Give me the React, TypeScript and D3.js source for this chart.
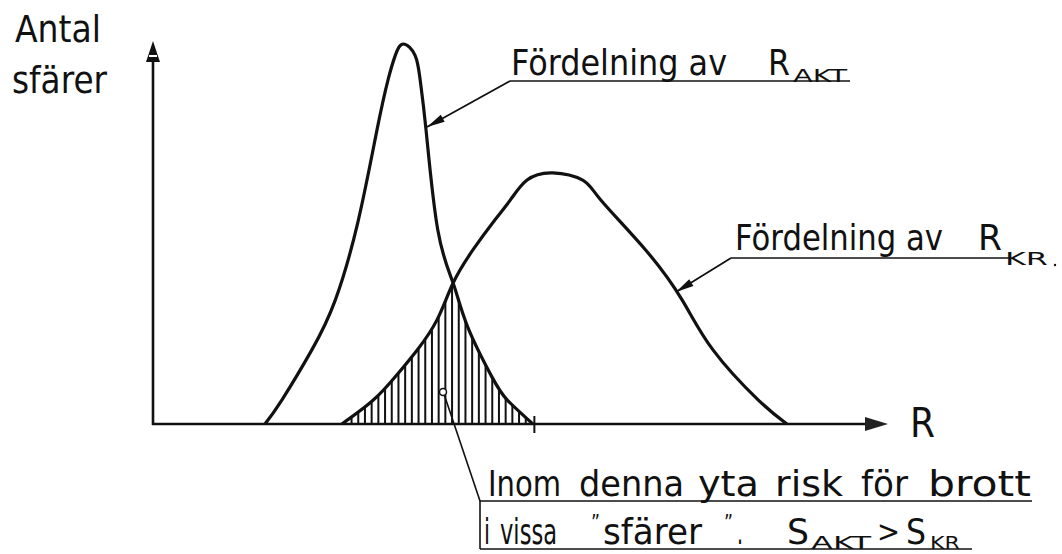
import React from "react";
import * as d3 from "d3";

// R values (0..100 along the R axis) and relative counts (0..100)
const aktR = [15.3, 17.6, 21.7, 24.9, 28.0, 30.6, 32.1, 33.1, 34.2, 35.8, 36.5, 37.3, 38.9, 41.0, 43.0, 46.3, 48.4, 51.9];
const aktN = [0, 6.3, 19.5, 32.6, 53.2, 77.4, 90.5, 97, 100, 97, 90.5, 77.4, 51.1, 37.1, 25.5, 12.4, 6.3, 0];
const krR = [25.8, 30.1, 33.3, 36.1, 38.8, 41.0, 43.7, 46.7, 48.8, 51.1, 54.6, 58.7, 61.2, 67.3, 72.3, 76.5, 82.7, 86.6];
const krN = [0, 6.3, 12.9, 19.5, 27.4, 37.1, 45.8, 53.7, 58.9, 64.2, 66.1, 64.2, 58.9, 45.8, 32.6, 19.5, 6.3, 0];
const hatchStartR = 25.8;
const hatchEndR = 51.9;
const tickR = 52.1;

const yLabel = ["Antal", "sfärer"];
const xLabel = "R";

const W = 1062;
const H = 554;
const FONT = "'DejaVu Sans', sans-serif";

const x = d3.scaleLinear().domain([0, 100]).range([153, 885]);
const y = d3.scaleLinear().domain([0, 100]).range([424, 44]);

type P = [number, number];
const akt: P[] = aktR.map((r, i) => [r, aktN[i]]);
const kr: P[] = krR.map((r, i) => [r, krN[i]]);

const curve = d3.curveNatural;
const line = d3
  .line<P>()
  .x((d) => x(d[0]))
  .y((d) => y(d[1]))
  .curve(curve);
const area = d3
  .area<P>()
  .x((d) => x(d[0]))
  .y0(y(0))
  .y1((d) => y(d[1]))
  .curve(curve);

function arrowHead(from: P, tip: P, len: number, half: number) {
  const dx = tip[0] - from[0];
  const dy = tip[1] - from[1];
  const L = Math.hypot(dx, dy);
  const ux = dx / L, uy = dy / L;
  const bx = tip[0] - ux * len, by = tip[1] - uy * len;
  const px = -uy, py = ux;
  return `M${tip[0]},${tip[1]}L${bx + px * half},${by + py * half}L${bx - px * half},${by - py * half}Z`;
}

function T({ x, y, len, size = 36, children }: { x: number; y: number; len: number; size?: number; children: React.ReactNode }) {
  return (
    <text x={x} y={y} fontSize={size} fontFamily={FONT} textLength={len} lengthAdjust="spacingAndGlyphs" fill="#111">
      {children}
    </text>
  );
}

export default function App() {
  const hatchXs = d3.range(x(hatchStartR) + 3, x(hatchEndR), 6.7);
  const lead1From: P = [510, 81];
  const lead1Tip: P = [427, 127];
  const lead2From: P = [731, 258];
  const lead2Tip: P = [676, 292];
  return (
    <svg width={W} height={H} style={{ position: "fixed", left: 0, top: 0, background: "#fff" }}>
      <defs>
        <clipPath id="cAkt">
          <path d={area(akt) || ""} />
        </clipPath>
        <clipPath id="cKr">
          <path d={area(kr) || ""} />
        </clipPath>
        <clipPath id="cAbove">
          <rect x={0} y={0} width={W} height={y(0)} />
        </clipPath>
      </defs>
      <rect width={W} height={H} fill="#fff" />

      {/* hatching */}
      <g clipPath="url(#cAkt)">
        <g clipPath="url(#cKr)">
          {hatchXs.map((hx, i) => (
            <line key={i} x1={hx} x2={hx} y1={y(0)} y2={y(100)} stroke="#111" strokeWidth={2} />
          ))}
        </g>
      </g>

      {/* curves */}
      <g clipPath="url(#cAbove)">
        <path d={line(akt) || ""} fill="none" stroke="#111" strokeWidth={3.2} strokeLinejoin="round" />
        <path d={line(kr) || ""} fill="none" stroke="#111" strokeWidth={3.2} strokeLinejoin="round" />
      </g>

      {/* axes */}
      <line x1={x(0)} x2={x(0)} y1={y(0) + 1} y2={60} stroke="#111" strokeWidth={2.6} />
      <path d={`M${x(0)},41L${x(0) - 7},62L${x(0) + 7},62Z`} fill="#111" />
      <line x1={x(0) - 4} x2={x(0) + 4} y1={56} y2={56} stroke="#fff" strokeWidth={2} />
      <line x1={x(0) - 1} x2={870} y1={y(0)} y2={y(0)} stroke="#111" strokeWidth={2.6} />
      <path d={`M888,${y(0)}L865,${y(0) - 7}L865,${y(0) + 7}Z`} fill="#222" />
      <line x1={x(tickR)} x2={x(tickR)} y1={y(0) - 8} y2={y(0) + 9} stroke="#111" strokeWidth={2} />

      {/* axis labels */}
      <T x={15} y={42} len={86} size={38}>{yLabel[0]}</T>
      <T x={12} y={93} len={95} size={38}>{yLabel[1]}</T>
      <T x={910} y={437} len={25} size={40}>{xLabel}</T>

      {/* label R_AKT */}
      <line x1={lead1From[0]} y1={lead1From[1]} x2={850} y2={lead1From[1]} stroke="#111" strokeWidth={1.5} />
      <line x1={lead1From[0]} y1={lead1From[1]} x2={lead1Tip[0]} y2={lead1Tip[1]} stroke="#111" strokeWidth={1.8} />
      <path d={arrowHead(lead1From, lead1Tip, 18, 4)} fill="#111" />
      <T x={511} y={75} len={216}>Fördelning av</T>
      <T x={768} y={75} len={22}>R</T>
      <T x={793} y={82} len={54} size={17}>AKT</T>

      {/* label R_KR */}
      <line x1={lead2From[0]} y1={lead2From[1]} x2={1010} y2={lead2From[1]} stroke="#111" strokeWidth={1.5} />
      <line x1={lead2From[0]} y1={lead2From[1]} x2={lead2Tip[0]} y2={lead2Tip[1]} stroke="#111" strokeWidth={1.8} />
      <path d={arrowHead(lead2From, lead2Tip, 18, 4)} fill="#111" />
      <T x={735} y={250} len={208}>Fördelning av</T>
      <T x={978} y={250} len={24}>R</T>
      <T x={1005} y={265} len={43} size={17}>KR</T>
      <circle cx={1055} cy={265} r={1.2} fill="#111" />

      {/* risk area label */}
      <circle cx={443} cy={392} r={3.5} fill="#fff" stroke="#111" strokeWidth={1.5} />
      <line x1={444.5} y1={395.5} x2={480} y2={501} stroke="#111" strokeWidth={1.6} />
      <line x1={480} y1={501} x2={1032} y2={501} stroke="#111" strokeWidth={1.6} />
      <line x1={480} y1={501} x2={480} y2={549} stroke="#111" strokeWidth={1.6} />
      <line x1={480} y1={549} x2={972} y2={549} stroke="#111" strokeWidth={1.4} />
      <T x={488} y={496} len={73}>Inom</T>
      <T x={579} y={496} len={105}>denna</T>
      <T x={698} y={496} len={61}>yta</T>
      <T x={775} y={496} len={68}>risk</T>
      <T x={861} y={496} len={47}>för</T>
      <T x={928} y={496} len={103}>brott</T>
      <T x={484} y={544} len={6}>i</T>
      <T x={500} y={544} len={57}>vissa</T>
      <T x={591} y={530} len={9} size={22}>”</T>
      <T x={603} y={544} len={99}>sfärer</T>
      <T x={724} y={530} len={9} size={22}>”</T>
      <T x={737} y={544} len={6}>.</T>
      <T x={787} y={544} len={22}>S</T>
      <T x={811} y={549} len={60} size={17}>AKT</T>
      <T x={877} y={542} len={23} size={30}>&gt;</T>
      <T x={906} y={544} len={20}>S</T>
      <T x={930} y={549} len={30} size={17}>KR</T>
    </svg>
  );
}
